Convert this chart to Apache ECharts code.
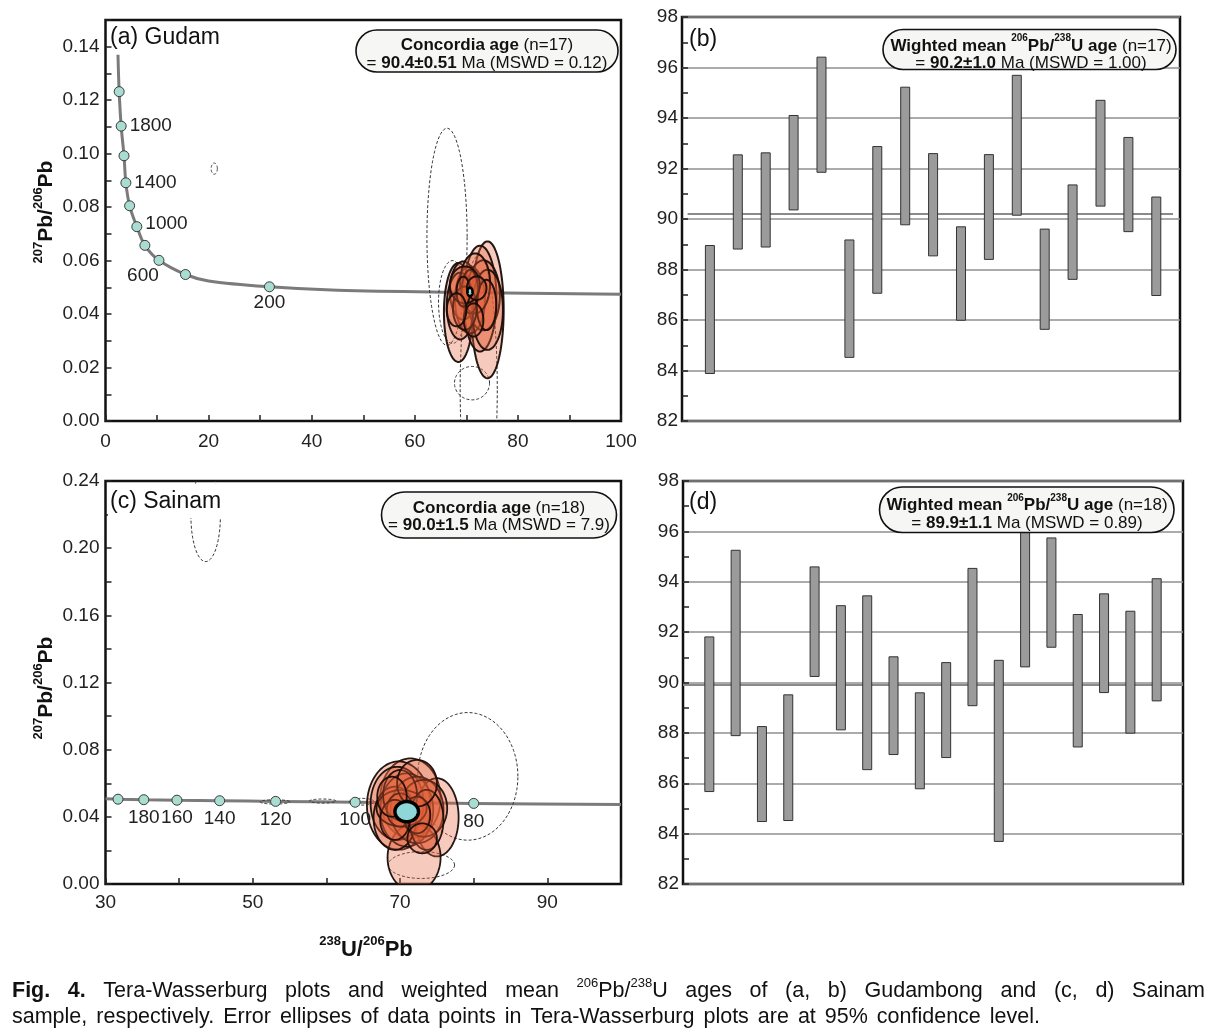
<!DOCTYPE html>
<html><head><meta charset="utf-8">
<script src="https://cdn.jsdelivr.net/npm/echarts@6/dist/echarts.min.js"></script>
<style>html,body{margin:0;padding:0;background:#fff}#c{width:1221px;height:1036px}</style>
</head><body><div id="c"></div>
<script>
const FONT = '"Liberation Sans", Arial, Helvetica, sans-serif';

// ---------- Panel (a) Gudam : Tera-Wasserburg ----------
const concordiaA = [[2.42,0.137],[2.65,0.1232],[3.04,0.1103],[3.59,0.0992],[3.95,0.0891],[4.68,0.0805],[6.08,0.0727],[7.64,0.0657],[10.37,0.0601],[15.51,0.0548],[20,0.0524],[31.8,0.0502],[45,0.0489],[70,0.0481],[100,0.0474]];
const ageMarkersA = [[2.65,0.1232],[3.04,0.1103],[3.59,0.0992],[3.95,0.0891],[4.68,0.0805],[6.08,0.0727],[7.64,0.0657],[10.37,0.0601],[15.51,0.0548],[31.8,0.0502]];
const ageLabelsA = ['', '1800', '', '1400', '', '1000', '', '600', '', '200'];
// [centre x, centre y, half-width, half-height]
const ellipsesA = [
  [74.1,0.0416,3.14,0.0256],[68.45,0.0406,2.8,0.0185],[72.65,0.0458,3.2,0.0198],[70.7,0.0453,2.9,0.0125],
  [69.4,0.0488,2.6,0.0109],[73.3,0.047,3.2,0.0131],[74.1,0.0416,3.0,0.015],[68.8,0.043,2.6,0.0125],
  [71.7,0.0515,2.9,0.0112],[70.7,0.0484,1.6,0.0081],[69.7,0.0422,2.3,0.0081],[73.9,0.0434,1.9,0.0094],
  [69.7,0.0509,2.9,0.0069],[71.4,0.0378,1.9,0.0062],[69.4,0.0484,1.3,0.0056],[72.0,0.0497,1.9,0.0044],
  [68.1,0.0416,1.9,0.0062]
];
const dashedEllipsesA = [[66.25,0.0689,3.9,0.0406],[21.1,0.0944,0.6,0.0021],[71.1,0.01415,3.4,0.00625],[72.4,0.012,3.6,0.05],[67.3,0.0445,2.7,0.0155]];
const meanEllipseA = [[70.7,0.0483,0.5,0.0016]];

// ---------- Panel (c) Sainam : Tera-Wasserburg ----------
const concordiaC = [[30,0.0507],[31.7,0.0505],[35.2,0.0502],[39.7,0.0499],[45.5,0.0496],[53.1,0.0492],[63.9,0.0487],[80,0.048],[100,0.0473]];
const ageMarkersC = [[31.7,0.0505],[35.2,0.0502],[39.7,0.0499],[45.5,0.0496],[53.1,0.0492],[63.9,0.0487],[80,0.048]];
const ageLabelsC = ['', '180', '160', '140', '120', '100', '80'];
const ellipsesC = [
  [71.4,0.051,4.1,0.0238],[69.8,0.0467,4.3,0.0263],[75.0,0.0397,2.95,0.0233],[71.9,0.0157,3.6,0.02],
  [69.6,0.048,3.6,0.0218],[70.9,0.0441,3.6,0.0218],[72.3,0.0441,3.6,0.0198],[69.3,0.0392,2.9,0.0188],
  [73.2,0.0451,3.2,0.0169],[70.2,0.0451,3.4,0.0109],[70.0,0.053,2.3,0.0149],[73.6,0.0382,2.3,0.0179],
  [70.0,0.0441,1.8,0.0099],[72.3,0.0411,1.8,0.0109],[69.3,0.0382,2.0,0.0119],[72.3,0.06,2.7,0.0139],
  [68.9,0.052,2.0,0.0119],[73.0,0.0272,2.0,0.0089]
];
const dashedEllipsesC = [[79.2,0.0641,6.8,0.038],[43.6,0.219,2.0,0.027],[72.9,0.0113,4.5,0.008],[53.0,0.0489,2.0,0.0013],[59.5,0.0494,1.8,0.0012],[64.8,0.049,1.7,0.002]];
const meanEllipseC = [[70.9,0.0431,1.6,0.006]];

// ---------- Panel (b) weighted mean, Gudam ----------
const lowB  = [83.88,88.81,88.89,90.36,91.85,84.52,87.06,89.77,88.54,85.99,88.40,90.15,85.63,87.61,90.51,89.50,86.97];
const highB = [88.95,92.54,92.62,94.10,96.41,89.17,92.87,95.22,92.59,89.69,92.55,95.69,89.60,91.35,94.70,93.23,90.87];
const meanB = 90.2;

// ---------- Panel (d) weighted mean, Sainam ----------
const lowD  = [85.67,87.89,84.48,84.52,90.24,88.12,86.54,87.14,85.78,87.02,89.08,83.69,90.62,91.40,87.44,89.60,87.99,89.27];
const highD = [91.81,95.25,88.25,89.51,94.59,93.05,93.44,91.02,89.59,90.79,94.53,90.88,96.2,95.74,92.70,93.52,92.83,94.12];
const meanD = 89.9;

// ---------- tick labels ----------
const xLabelsA = [0,20,40,60,80,100];
const yLabelsA = [0,0.02,0.04,0.06,0.08,0.10,0.12,0.14];
const xLabelsC = [30,50,70,90];
const yLabelsC = [0,0.04,0.08,0.12,0.16,0.20,0.24];
const yLabelsBD = [82,84,86,88,90,92,94,96,98];

function fmtIf(list, v, dec) { return list.some(l => Math.abs(l - v) < 1e-7) ? v.toFixed(dec) : ''; }

const tickStyle = {show:true, inside:true, length:6, lineStyle:{color:'#222', width:1.5}};
const labelStyle = {fontSize:19, fontFamily:FONT, color:'#222'};
const gridBase = {show:true, borderColor:'#111', borderWidth:2.5, backgroundColor:'transparent'};

function ellipseSeries(data, xi, style, z) {
  return {
    type:'custom', xAxisIndex:xi, yAxisIndex:xi, clip:true, z:z, silent:true,
    encode:{x:0, y:1},
    data:data,
    renderItem:function(params, api){
      const cx = api.value(0), cy = api.value(1), rx = api.value(2), ry = api.value(3);
      const pts = [];
      for (let k = 0; k < 90; k++) {
        const t = k / 90 * Math.PI * 2;
        pts.push(api.coord([cx + rx * Math.cos(t), cy + ry * Math.sin(t)]));
      }
      return {type:'polygon', shape:{points:pts}, style:Object.assign({}, style)};
    }
  };
}
function barSeries(lo, hi, idx) {
  return {
    type:'custom', xAxisIndex:idx, yAxisIndex:idx, clip:true, z:3, silent:true,
    encode:{x:0, y:[1,2]},
    data: lo.map((v,k) => [k+1, v, hi[k]]),
    renderItem:function(params, api){
      const top = api.coord([api.value(0), api.value(2)]);
      const bot = api.coord([api.value(0), api.value(1)]);
      return {type:'rect', shape:{x:top[0]-4.5, y:top[1], width:9, height:bot[1]-top[1]},
              style:{fill:'#9b9b9b', stroke:'#333', lineWidth:1}};
    }
  };
}
const labelPlaceA = {
  '1800': {position:'right', distance:3},
  '1400': {position:'right', distance:3},
  '1000': {position:'right', distance:3, offset:[0,-3]},
  '600':  {position:'bottom', distance:5, offset:[-16,-5]},
  '200':  {position:'bottom', distance:5, offset:[0,-4]}
};
function markerSeries(pts, labels, idx, place) {
  return {
    type:'scatter', xAxisIndex:idx, yAxisIndex:idx, z:4, silent:true,
    symbol:'circle', symbolSize:10,
    itemStyle:{color:'#a9ddd2', borderColor:'#3a3a3a', borderWidth:1, opacity:1},
    label:{fontSize:19, fontFamily:FONT, color:'#222'},
    data: pts.map((p,i) => ({
      value:p,
      label: labels[i] ? Object.assign({show:true, formatter:labels[i]}, place(labels[i])) : {show:false}
    }))
  };
}
const fillStyleA = {fill:'rgba(228,98,58,0.33)', stroke:'rgba(25,12,8,0.95)', lineWidth:2};
const fillStyleC = {fill:'rgba(228,98,58,0.33)', stroke:'rgba(25,12,8,0.95)', lineWidth:1.8};
const dashStyle = {fill:'none', stroke:'#333', lineWidth:1, lineDash:[3,2]};

// ---------- graphic helpers ----------
function richSet(base, sup, color) {
  return {
    b:{fontWeight:'bold', fontSize:base, fontFamily:FONT, fill:color, lineHeight:base+4, verticalAlign:'bottom'},
    r:{fontSize:base, fontFamily:FONT, fill:color, lineHeight:base+4, verticalAlign:'bottom'},
    s:{fontWeight:'bold', fontSize:sup, fontFamily:FONT, fill:color, lineHeight:sup+2, verticalAlign:'top'}
  };
}
function txt(x, y, text, size, align, extra) {
  return Object.assign({type:'text', x:x, y:y, z:100, silent:true,
    style:{text:text, fontSize:size, fontFamily:FONT, fill:'#111', align:align, verticalAlign:'middle',
           textAlign:align, textVerticalAlign:'middle'}}, extra || {});
}
function richTxt(x, y, text, base, sup, rot) {
  return {type:'text', x:x, y:y, z:100, silent:true, rotation:rot || 0,
    style:{text:text, fontSize:base, fontFamily:FONT, fill:'#111', align:'center', verticalAlign:'middle',
           textAlign:'center', textVerticalAlign:'middle', rich:richSet(base, sup, '#111')}};
}
function box(x, y, w, h) {
  return {type:'rect', z:95, silent:true, shape:{x:x, y:y, width:w, height:h, r:h/2},
          style:{fill:'#f6f6f4', stroke:'#111', lineWidth:1.6}};
}

const G = [];
G.push(txt(110, 38, '(a) Gudam', 23, 'left'));
G.push(txt(689, 40, '(b)', 23, 'left'));
G.push({type:'rect', z:90, silent:true, shape:{x:108, y:483.5, width:128, height:34.5}, style:{fill:'#fff'}});
G.push(txt(110, 501.5, '(c) Sainam', 23, 'left'));
G.push(txt(689, 503, '(d)', 23, 'left'));

G.push(box(356, 30, 262, 42));
G.push(richTxt(487, 43.5, '{b|Concordia age} {r|(n=17)}', 17, 10));
G.push(richTxt(487, 61, '{r|= }{b|90.4±0.51}{r| Ma (MSWD = 0.12)}', 17, 10));

G.push(box(883, 29.5, 293, 40));
G.push(richTxt(1031, 44, '{b|Wighted mean }{s|206}{b|Pb/}{s|238}{b|U age} {r|(n=17)}', 17, 10));
G.push(richTxt(1031, 61, '{r|= }{b|90.2±1.0}{r| Ma (MSWD = 1.00)}', 17, 10));

G.push(box(381.5, 492, 235, 46));
G.push(richTxt(499, 506, '{b|Concordia age} {r|(n=18)}', 17, 10));
G.push(richTxt(499, 523, '{r|= }{b|90.0±1.5}{r| Ma (MSWD = 7.9)}', 17, 10));

G.push(box(879.5, 487, 294.5, 45.5));
G.push(richTxt(1027, 503.5, '{b|Wighted mean }{s|206}{b|Pb/}{s|238}{b|U age} {r|(n=18)}', 17, 10));
G.push(richTxt(1027, 521.5, '{r|= }{b|89.9±1.1}{r| Ma (MSWD = 0.89)}', 17, 10));

// axis titles
G.push(richTxt(44, 212, '{s|207}{b|Pb/}{s|206}{b|Pb}', 21, 13, Math.PI/2));
G.push(richTxt(44, 688, '{s|207}{b|Pb/}{s|206}{b|Pb}', 21, 13, Math.PI/2));
G.push(richTxt(366, 948, '{s|238}{b|U/}{s|206}{b|Pb}', 22, 13, 0));

// caption
const ctx = document.createElement('canvas').getContext('2d');
function measure(t, size, bold) { ctx.font = (bold ? 'bold ' : '') + size + 'px ' + FONT; return ctx.measureText(t).width; }
const cs = 21.5;
const supS = 13;
const capLine1 = [
  [{t:'Fig.', b:1}], [{t:'4.', b:1}], [{t:'Tera-Wasserburg'}], [{t:'plots'}], [{t:'and'}], [{t:'weighted'}], [{t:'mean'}],
  [{t:'206', s:1}, {t:'Pb/'}, {t:'238', s:1}, {t:'U'}], [{t:'ages'}], [{t:'of'}], [{t:'(a,'}], [{t:'b)'}],
  [{t:'Gudambong'}], [{t:'and'}], [{t:'(c,'}], [{t:'d)'}], [{t:'Sainam'}]
];
const capLine2 = 'sample, respectively. Error ellipses of data points in Tera-Wasserburg plots are at 95% confidence level.'
  .split(' ').map(w => [{t:w}]);
const segW = s => measure(s.t, s.s ? supS : cs, !!s.b);
function layLine(words, x0, x1, y) {
  const ww = words.map(w => w.reduce((a, s) => a + segW(s), 0));
  const gap = (x1 - x0 - ww.reduce((a, b) => a + b, 0)) / (words.length - 1);
  let x = x0;
  words.forEach(w => {
    w.forEach(s => {
      G.push({type:'text', x:x, y: s.s ? y - 7.5 : y, z:100, silent:true,
        style:{text:s.t, fontSize: s.s ? supS : cs, fontWeight: s.b ? 'bold' : 'normal', fontFamily:FONT, fill:'#111',
               align:'left', verticalAlign:'middle', textAlign:'left', textVerticalAlign:'middle'}});
      x += segW(s);
    });
    x += gap;
  });
}
layLine(capLine1, 12, 1205, 991);
layLine(capLine2, 12, 1040, 1017);

const chart = echarts.init(document.getElementById('c'), null, {renderer:'canvas'});
const option = {
  animation:false,
  backgroundColor:'#fff',
  grid:[
    Object.assign({left:105.5, top:20, width:515.5, height:401}, gridBase),
    Object.assign({left:682, top:17, width:498, height:404}, gridBase),
    Object.assign({left:105.5, top:481, width:515.5, height:403}, gridBase),
    Object.assign({left:683, top:481, width:500, height:403}, gridBase)
  ],
  xAxis:[
    {gridIndex:0, type:'value', min:0, max:100, interval:10, axisLine:{show:false}, axisTick:tickStyle, splitLine:{show:false},
     axisLabel:Object.assign({margin:11, formatter:v => fmtIf(xLabelsA, v, 0)}, labelStyle)},
    {gridIndex:1, type:'value', min:0, max:17.85, show:false},
    {gridIndex:2, type:'value', min:30, max:100, interval:10, axisLine:{show:false}, axisTick:tickStyle, splitLine:{show:false},
     axisLabel:Object.assign({margin:9, formatter:v => fmtIf(xLabelsC, v, 0)}, labelStyle)},
    {gridIndex:3, type:'value', min:0, max:19, show:false}
  ],
  yAxis:[
    {gridIndex:0, type:'value', min:0, max:0.15, interval:0.01, axisLine:{show:false}, axisTick:tickStyle, splitLine:{show:false},
     axisLabel:Object.assign({margin:6, formatter:v => fmtIf(yLabelsA, v, 2)}, labelStyle)},
    {gridIndex:1, type:'value', min:82, max:98, interval:2, axisLine:{show:false}, axisTick:tickStyle,
     minorTick:{show:true, splitNumber:2, length:6, lineStyle:{color:'#222', width:1.5}},
     splitLine:{show:true, lineStyle:{color:'#8f8f8f', width:1.5}},
     axisLabel:Object.assign({margin:4, formatter:v => fmtIf(yLabelsBD, v, 0)}, labelStyle)},
    {gridIndex:2, type:'value', min:0, max:0.24, interval:0.02, axisLine:{show:false}, axisTick:tickStyle, splitLine:{show:false},
     axisLabel:Object.assign({margin:6, formatter:v => fmtIf(yLabelsC, v, 2)}, labelStyle)},
    {gridIndex:3, type:'value', min:82, max:98, interval:2, axisLine:{show:false}, axisTick:tickStyle,
     minorTick:{show:true, splitNumber:2, length:6, lineStyle:{color:'#222', width:1.5}},
     splitLine:{show:true, lineStyle:{color:'#8f8f8f', width:1.5}},
     axisLabel:Object.assign({margin:4, formatter:v => fmtIf(yLabelsBD, v, 0)}, labelStyle)}
  ],
  series:[
    {type:'line', xAxisIndex:0, yAxisIndex:0, data:concordiaA, smooth:0.35, symbol:'none', silent:true, z:1,
     lineStyle:{color:'#7b7b7b', width:3}},
    ellipseSeries(dashedEllipsesA, 0, dashStyle, 2),
    ellipseSeries(ellipsesA, 0, fillStyleA, 3),
    markerSeries(ageMarkersA, ageLabelsA, 0, l => labelPlaceA[l]),
    ellipseSeries(meanEllipseA, 0, {fill:'#8fd6d8', stroke:'#000', lineWidth:2.5}, 5),

    {type:'line', xAxisIndex:2, yAxisIndex:2, data:concordiaC, smooth:0.3, symbol:'none', silent:true, z:1,
     lineStyle:{color:'#7b7b7b', width:3}},
    ellipseSeries(dashedEllipsesC, 2, dashStyle, 2),
    ellipseSeries(ellipsesC, 2, fillStyleC, 3),
    markerSeries(ageMarkersC, ageLabelsC, 2, l => ({position:'bottom', distance:3})),
    ellipseSeries(meanEllipseC, 2, {fill:'#8fd6d8', stroke:'#000', lineWidth:3.5}, 5),

    barSeries(lowB, highB, 1),
    {type:'line', xAxisIndex:1, yAxisIndex:1, data:[[0.2, meanB],[17.6, meanB]], symbol:'none', silent:true, z:2,
     lineStyle:{color:'#8a8a8a', width:2}},
    barSeries(lowD, highD, 3),
    {type:'line', xAxisIndex:3, yAxisIndex:3, data:[[0, meanD],[19, meanD]], symbol:'none', silent:true, z:2,
     lineStyle:{color:'#8a8a8a', width:2}}
  ],
  graphic:{elements:G}
};
chart.setOption(option);
</script></body></html>
